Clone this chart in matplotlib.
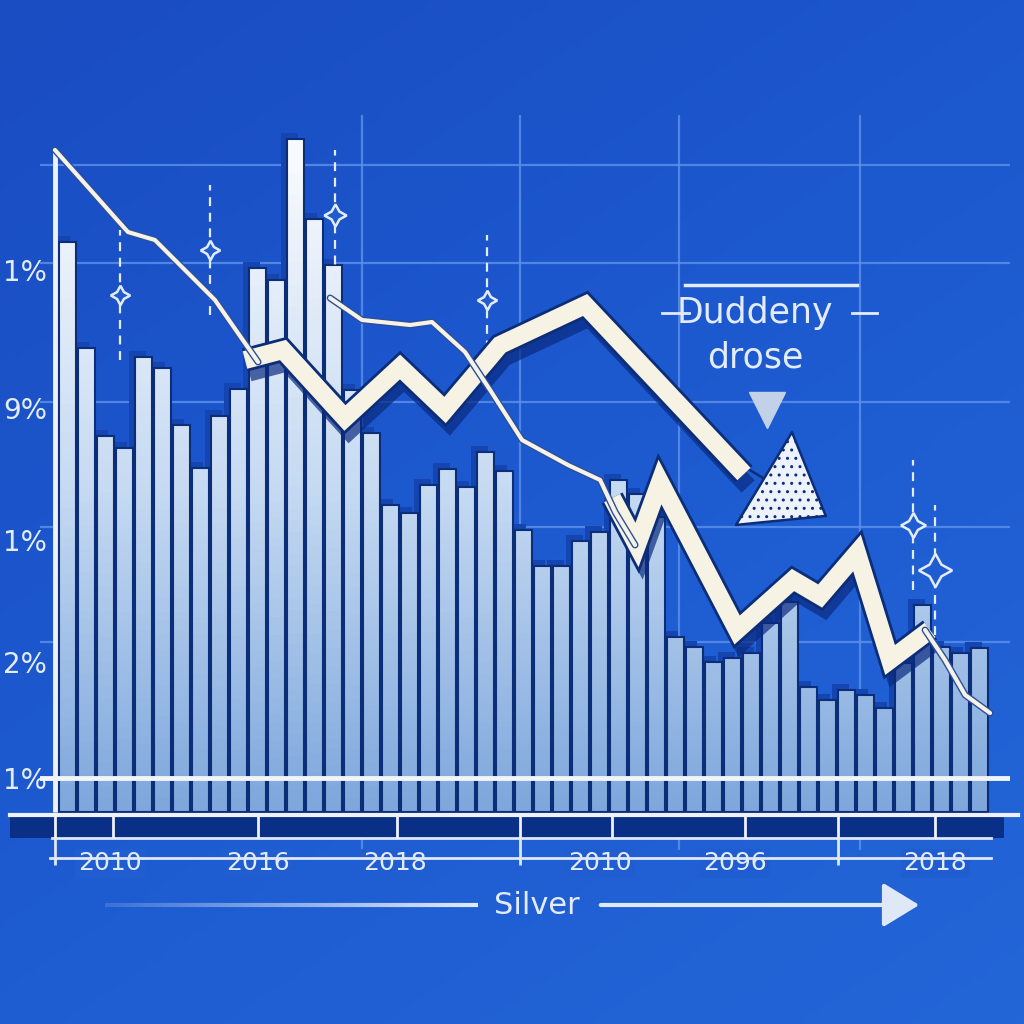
# Silver chart - blue "infographic" style bars with falling ribbons

import matplotlib
matplotlib.use('Agg')
import matplotlib.pyplot as plt
import numpy as np
from matplotlib.colors import LinearSegmentedColormap
from matplotlib.patches import Rectangle, FancyArrowPatch
from matplotlib.collections import LineCollection
from matplotlib import patheffects as pe

# ---- data ----
bar_values = [57.0, 46.4, 37.6, 36.4, 45.5, 44.4, 38.7, 34.4, 39.6, 42.3,
              54.4, 53.2, 67.3, 59.3, 54.7, 42.2, 37.9, 30.7, 29.9, 32.7,
              34.3, 32.5, 36.0, 34.1, 28.2, 24.6, 24.6, 27.1, 28.0, 33.2,
              31.8, 29.5, 17.5, 16.5, 15.0, 15.4, 15.9, 18.9, 21.0, 12.5,
              11.2, 12.2, 11.7, 10.4, 14.9, 20.7, 16.5, 15.9, 16.4]

# thin line, three pieces
thin1_x = [-0.66, 3.18, 4.60, 7.76, 10.03]
thin1_y = [66.2, 58.0, 57.2, 51.2, 45.0]
thin2_x = [13.82, 15.50, 18.03, 19.18, 20.92, 22.24, 23.92, 26.34, 28.03, 28.82, 29.87]
thin2_y = [51.4, 49.2, 48.7, 49.0, 46.0, 42.2, 37.2, 34.7, 33.2, 30.0, 26.7]
thin3_x = [45.13, 46.18, 47.24, 48.55]
thin3_y = [18.2, 15.2, 11.7, 9.9]

# thick ribbons
ribbon1_x = [9.34, 11.34, 14.60, 17.50, 19.87, 22.76, 27.24, 35.60]
ribbon1_y = [45.2, 46.2, 39.4, 44.5, 40.2, 46.7, 50.7, 33.8]
ribbon1_head = (40.0, 29.5)
ribbon2_x = [28.66, 29.97, 31.18, 35.24, 38.18, 39.61, 41.55, 43.29, 45.39]
ribbon2_y = [31.4, 26.7, 33.0, 18.2, 23.2, 21.6, 25.9, 15.2, 18.2]

y_tick_pos = [54.2, 40.4, 27.2, 15.0, 3.4]
y_tick_labels = ['1%', '9%', '1%', '2%', '1%']
x_tick_pos = [2.24, 10.03, 17.24, 28.03, 35.13, 45.66]
x_tick_labels = ['2010', '2016', '2018', '2010', '2096', '2018']

grid_y = [64.7, 54.9, 41.0, 28.5, 17.0]
grid_x = [15.5, 23.8, 32.2, 41.7]
band_divs = [-0.66, 2.39, 10.03, 17.34, 23.82, 28.66, 35.66, 40.55, 45.66]
sparkles_x = [2.76, 7.5, 14.08, 22.08, 44.5, 45.66]
sparkles_y = [51.7, 56.2, 59.7, 51.2, 28.7, 24.2]
sparkles_s = [14, 14, 16, 14, 18, 24]

NAVY = '#0c2d78'
LIGHT = '#e4ecfa'

fig = plt.figure(figsize=(10.24, 10.24), dpi=100)

# background gradient
bg = fig.add_axes([0, 0, 1, 1], zorder=-10)
gx, gy = np.meshgrid(np.linspace(0, 1, 200), np.linspace(0, 1, 200))
bg_cmap = LinearSegmentedColormap.from_list('bg', ['#1a4cc2', '#1d5ad0', '#2366d8'])
bg.imshow(0.6 * gy + 0.4 * gx, cmap=bg_cmap, extent=(0, 1, 0, 1), aspect='auto', origin='upper')
bg.axis('off')

ax = fig.add_axes([40 / 1024, 174 / 1024, 970 / 1024, 735 / 1024])
ax.set_facecolor('none')

# grid
for gyv in grid_y:
    ax.axhline(gyv, color='#5d92ea', lw=1.6, alpha=0.8, zorder=0.5)
for gxv in grid_x:
    ax.axvline(gxv, color='#5d92ea', lw=1.6, alpha=0.8, zorder=0.5)

x = np.arange(len(bar_values))
# 3d-ish shadow behind bars
ax.bar(x - 0.3, np.array(bar_values) + 0.6, width=0.9, color='#1445b0', zorder=1.5)

bar_cmap = LinearSegmentedColormap.from_list('bars', ['#7ea7dc', '#c6daf2', '#f6f9fd'])
for i, v in enumerate(bar_values):
    grad = np.linspace(0, v, 60).reshape(-1, 1)
    ax.imshow(grad, cmap=bar_cmap, vmin=0, vmax=65, origin='lower', aspect='auto',
              extent=(i - 0.45, i + 0.45, 0, v), zorder=2)
ax.bar(x, bar_values, width=0.9, fill=False, edgecolor=NAVY, lw=1.5, zorder=2.5)

# baseline and left axis line
ax.axhline(y_tick_pos[-1], color='#f2f4f8', lw=3.5, zorder=3)
ax.vlines(thin1_x[0], 0, thin1_y[0], color='#eef2f8', lw=3.5, zorder=3)

# band under bars
ax.add_patch(Rectangle((-3.0, -2.6), 52.3, 2.3, facecolor='#0a2f86', edgecolor='none',
                       zorder=3, clip_on=False))
ax.plot([-3.0, 50.0], [-0.3, -0.3], color='#eef2f8', lw=3, zorder=3.5, clip_on=False)
ax.plot([-0.8, 48.6], [-2.6, -2.6], color='#dfe8f7', lw=2, zorder=3.5, clip_on=False)
ax.vlines(band_divs, -2.6, -0.3, color='#eef2f8', lw=2, zorder=3.5, clip_on=False)
ax.plot([-0.9, 48.6], [-4.6, -4.6], color='#dfe8f7', lw=2, zorder=3.5, clip_on=False)
ax.vlines([band_divs[0], band_divs[4], band_divs[7]], -2.6, -5.3, color='#dfe8f7', lw=2,
          zorder=3.5, clip_on=False)

# thin lines
thin_fx = [pe.Stroke(linewidth=5, foreground='#2b4f9c'), pe.Normal()]
for tx, ty in [(thin1_x, thin1_y), (thin2_x, thin2_y), (thin3_x, thin3_y)]:
    ax.plot(tx, ty, color='#f6f2e6', lw=3, zorder=7, path_effects=thin_fx,
            solid_capstyle='round')

# thick ribbons
ribbon_fx = [pe.SimpleLineShadow(offset=(3, -9), shadow_color='#0a2a80', alpha=0.7),
             pe.Stroke(linewidth=17, foreground=NAVY), pe.Normal()]
arrow = FancyArrowPatch((ribbon1_x[-1] - 1.0, ribbon1_y[-1] + 1.9), ribbon1_head,
                        arrowstyle='-|>,head_length=0.8,head_width=0.6', mutation_scale=65,
                        facecolor='#eef3fb', edgecolor=NAVY, hatch='..', lw=1.8,
                        shrinkA=0, shrinkB=0, zorder=5)
ax.add_patch(arrow)
for rx, ry in [(ribbon1_x, ribbon1_y), (ribbon2_x, ribbon2_y)]:
    ax.plot(rx, ry, color='#f6f2e4', lw=13, zorder=6, path_effects=ribbon_fx,
            solid_joinstyle='miter', solid_capstyle='butt')

# sparkles
for sx, sy, ss in zip(sparkles_x, sparkles_y, sparkles_s):
    ax.plot([sx, sx], [sy - 6.5, sy + 6.5], color=LIGHT, lw=1.6, ls=(0, (4, 3)), zorder=4)
    ax.plot(sx, sy, marker=(4, 1, 0), ms=ss, mfc='#1f5ccf', mec=LIGHT, mew=1.8, zorder=4.5)

# annotation
ax.text(36.2, 49.9, 'Duddeny', ha='center', va='center', fontsize=25, color=LIGHT, zorder=8)
ax.text(36.2, 45.5, 'drose', ha='center', va='center', fontsize=25, color=LIGHT, zorder=8)
ax.plot([32.5, 41.55], [52.7, 52.7], color=LIGHT, lw=2.5, zorder=8)
ax.plot([31.3, 32.7], [49.9, 49.9], color=LIGHT, lw=2, zorder=8)
ax.plot([41.3, 42.6], [49.9, 49.9], color=LIGHT, lw=2, zorder=8)
ax.plot(36.8, 40.2, marker='v', ms=26, color='#c3d1e8', zorder=8)

ax.set_xlim(-1.447, 49.6)
ax.set_ylim(-3.8, 69.7)
ax.set_yticks(y_tick_pos)
ax.set_yticklabels(y_tick_labels, fontsize=20, color=LIGHT)
ax.set_xticks(x_tick_pos)
ax.set_xticklabels(x_tick_labels, fontsize=18, color=LIGHT)
for lab in ax.get_xticklabels():
    lab.set_bbox(dict(facecolor='#1f5dd0', edgecolor='none', pad=2))
ax.tick_params(axis='both', length=0)
ax.tick_params(axis='y', pad=-5)
ax.tick_params(axis='x', pad=1)
for s in ax.spines.values():
    s.set_visible(False)

# Silver axis title with arrow
fig.text(537 / 1024, 1 - 905 / 1024, 'Silver', ha='center', va='center', fontsize=22,
         color=LIGHT)
xs = np.linspace(105 / 1024, 478 / 1024, 60)
segs = [[(xs[k], 1 - 905 / 1024), (xs[k + 1], 1 - 905 / 1024)] for k in range(len(xs) - 1)]
alphas = np.linspace(0.15, 1, len(segs))
lc = LineCollection(segs, colors=[(0.88, 0.92, 0.98, a) for a in alphas], lw=3,
                    transform=fig.transFigure)
fig.add_artist(lc)
fig.add_artist(FancyArrowPatch((598 / 1024, 1 - 905 / 1024), (922 / 1024, 1 - 905 / 1024),
                               transform=fig.transFigure, arrowstyle='-|>,head_length=0.9,head_width=0.55',
                               mutation_scale=25, color='#dfe8f7', lw=3))

plt.savefig('out.png', dpi=100)
plt.close()
